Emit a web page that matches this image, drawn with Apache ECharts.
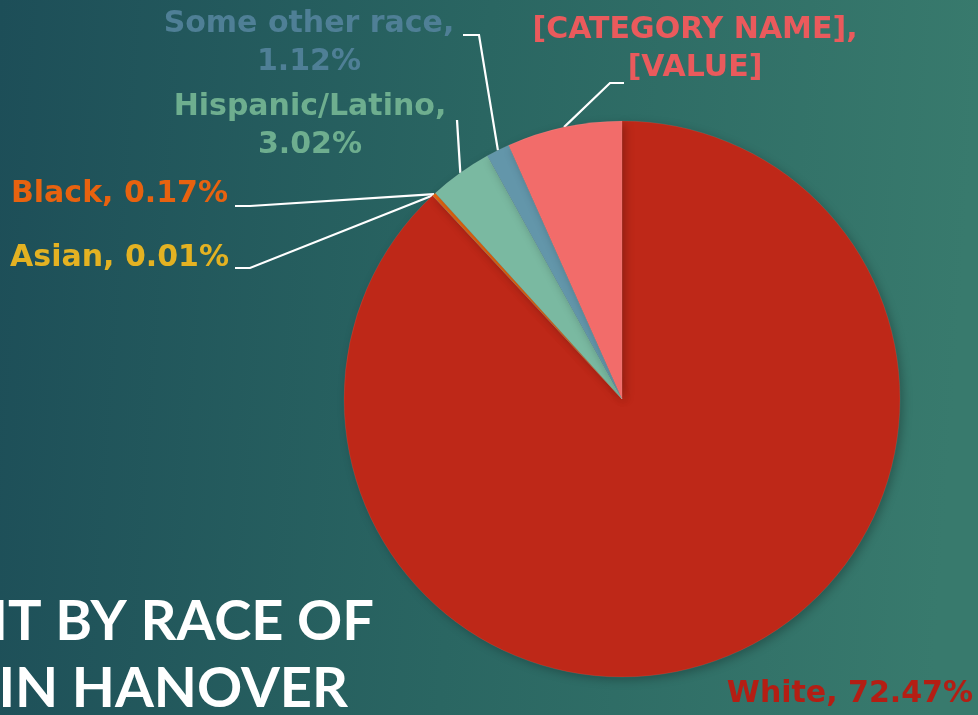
<!DOCTYPE html>
<html>
<head>
<meta charset="utf-8">
<script src="https://cdn.jsdelivr.net/npm/echarts@6/dist/echarts.min.js"></script>
<style>
  html, body { margin: 0; padding: 0; }
  #chart-container { width: 978px; height: 715px; }
</style>
</head>
<body>
<div id="chart-container"></div>
<script>
// slice data, clockwise from 12 o'clock
const categories = ['White', 'Asian', 'Black', 'Hispanic/Latino', 'Some other race', '[CATEGORY NAME]'];
const values = [72.47, 0.01, 0.17, 3.02, 1.12, 5.5];
const sliceColors = ['#be2818', '#e8b420', '#e8660f', '#7ab9a1', '#6396aa', '#f26c6a'];
const labelColors = ['#b41e14', '#e4b222', '#e8620f', '#6eae8f', '#4f7f96', '#ea5a5c'];
// labels that are broken onto two lines
const wrapped = ['Hispanic/Latino', 'Some other race', '[CATEGORY NAME]'];

const labelFont = 'DejaVu Sans';
const titleFont = 'Lato';

function labelText(p) {
    if (p.name === '[CATEGORY NAME]') {
        return '[CATEGORY NAME],\n[VALUE]';
    }
    const sep = wrapped.indexOf(p.name) >= 0 ? ',\n' : ', ';
    return p.name + sep + p.value.toFixed(2) + '%';
}

// where each label sits and how its leader line bends
const labelSpots = [
    { x: 973, y: 694, align: 'right', bend: null },
    { x: 229, y: 258, align: 'right', bend: [[250, 268], [235, 268]] },
    { x: 228, y: 194, align: 'right', bend: [[250, 206], [235, 206]] },
    { x: 310, y: 126, align: 'center', bend: [[457, 120], [457, 120]] },
    { x: 309, y: 43, align: 'center', bend: [[479, 35], [463, 35]] },
    { x: 695, y: 49, align: 'center', bend: [[610, 83], [624, 83]] }
];

let myChart = echarts.init(document.getElementById('chart-container'));

let pieData = categories.map(function (c, i) {
    return {
        name: c,
        value: values[i],
        itemStyle: { color: sliceColors[i] },
        label: { color: labelColors[i] },
        labelLine: { show: i !== 0 }
    };
});

let option = {
    animation: false,
    backgroundColor: {
        type: 'linear', x: 0, y: 0, x2: 1, y2: 0.1,
        colorStops: [
            { offset: 0, color: '#1d4e58' },
            { offset: 0.5, color: '#2a6662' },
            { offset: 1, color: '#387a6d' }
        ]
    },
    graphic: [
        {
            type: 'text',
            x: 374, y: 622,
            style: {
                text: 'NT BY RACE OF', fill: '#ffffff',
                font: 'bold 56px ' + titleFont, textAlign: 'right', textVerticalAlign: 'middle'
            }
        },
        {
            type: 'text',
            x: 348, y: 689,
            style: {
                text: 'IN HANOVER', fill: '#ffffff',
                font: 'bold 56px ' + titleFont, textAlign: 'right', textVerticalAlign: 'middle'
            }
        }
    ],
    series: [{
        type: 'pie',
        center: [622, 399],
        radius: 278,
        startAngle: 90,
        clockwise: true,
        avoidLabelOverlap: false,
        data: pieData,
        itemStyle: {
            borderColor: 'rgba(255,255,255,0.15)',
            borderWidth: 0.5,
            shadowBlur: 10,
            shadowOffsetX: 3,
            shadowOffsetY: 3,
            shadowColor: 'rgba(0,0,0,0.25)'
        },
        label: {
            show: true,
            position: 'outside',
            formatter: labelText,
            fontFamily: labelFont,
            fontWeight: 'bold',
            fontSize: 30,
            lineHeight: 38
        },
        labelLine: {
            show: true,
            lineStyle: { color: '#ffffff', width: 2.2 }
        },
        labelLayout: function (params) {
            const spot = labelSpots[params.dataIndex];
            let out = { x: spot.x, y: spot.y, align: spot.align, verticalAlign: 'middle' };
            if (spot.bend && params.labelLinePoints) {
                out.labelLinePoints = [params.labelLinePoints[0]].concat(spot.bend);
            }
            return out;
        },
        emphasis: { disabled: true }
    }]
};

myChart.setOption(option);
</script>
</body>
</html>
